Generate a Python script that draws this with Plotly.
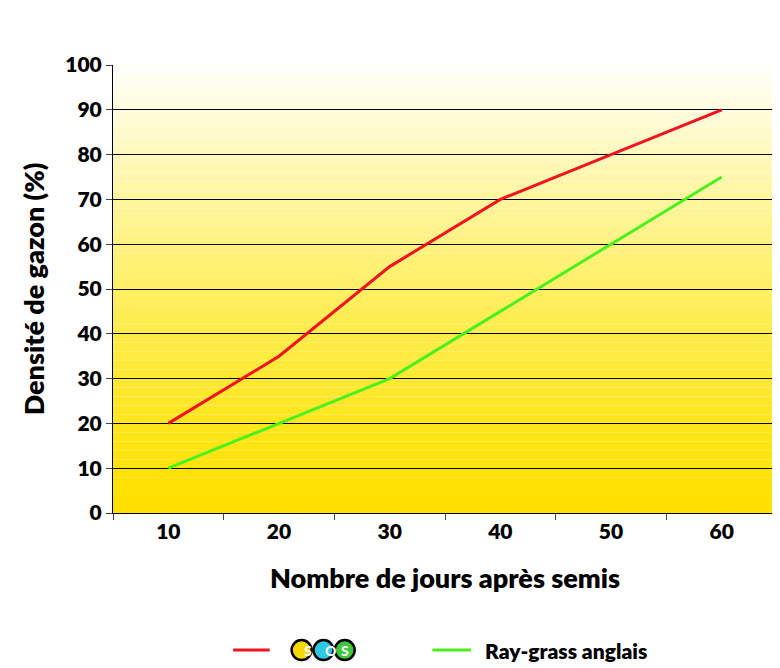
import plotly.graph_objects as go

jours = ["10", "20", "30", "40", "50", "60"]
sos = [20, 35, 55, 70, 80, 90]
ray_grass = [10, 20, 30, 45, 60, 75]

fig = go.Figure()
fig.add_trace(go.Scatter(x=jours, y=sos, mode="lines", line=dict(color="#f0141e", width=3), name="SOS"))
fig.add_trace(go.Scatter(x=jours, y=ray_grass, mode="lines", line=dict(color="#4cf01e", width=3), name="Ray-grass anglais"))

# vertical gradient background, white at top to yellow at bottom
shapes = []
n = 50
for i in range(n):
    t = i / (n - 1)
    r, g, b = 255, int(224 + (255 - 224) * t), int(0 + 250 * t ** 1.3)
    shapes.append(dict(type="rect", xref="paper", yref="y", x0=0, x1=1,
                       y0=100 * i / n, y1=100 * (i + 1) / n, layer="below",
                       line=dict(width=0), fillcolor=f"rgb({r},{g},{b})"))

ly = -0.306
# manual legend
shapes.append(dict(type="line", xref="paper", yref="paper", x0=0.181, x1=0.236, y0=ly, y1=ly,
                   line=dict(color="#f0141e", width=3)))
shapes.append(dict(type="line", xref="paper", yref="paper", x0=0.481, x1=0.539, y0=ly, y1=ly,
                   line=dict(color="#4cf01e", width=3)))
annotations = []
for cx, col, letter in [(0.284, "#f5d800", "S"), (0.317, "#2ec8e0", "O"), (0.349, "#3cc83c", "S")]:
    shapes.append(dict(type="circle", xref="paper", yref="paper", xsizemode="pixel", ysizemode="pixel",
                       xanchor=cx, yanchor=ly, x0=-10, x1=10, y0=-10, y1=10,
                       fillcolor=col, line=dict(color="black", width=2.5)))
    annotations.append(dict(x=cx, y=ly, xref="paper", yref="paper", yanchor="middle", text=letter,
                            showarrow=False,
                            font=dict(color="white", size=14, family="Lato", weight=900)))
annotations.append(dict(x=0.557, y=ly, xref="paper", yref="paper", xanchor="left", yanchor="middle",
                        text="Ray-grass anglais", showarrow=False,
                        font=dict(color="black", size=21, family="Lato", weight=800)))

fig.update_layout(
    width=772, height=660,
    margin=dict(l=105, r=3, t=57, b=155),
    paper_bgcolor="white", plot_bgcolor="white",
    showlegend=False, shapes=shapes, annotations=annotations,
    font=dict(family="Lato", color="black", size=17),
)
fig.update_xaxes(
    type="category", range=[-0.5, 5.5], tickson="boundaries", ticks="outside", ticklen=6,
    showline=True, linecolor="black", linewidth=1, showgrid=False,
    tickfont=dict(size=21, family="Lato", weight=800),
    title=dict(text="Nombre de jours après semis", font=dict(size=27, weight=800), standoff=26),
)
fig.update_yaxes(
    range=[0, 100], dtick=10, ticks="outside", ticklen=6,
    showline=True, linecolor="black", linewidth=1,
    showgrid=True, gridcolor="black", gridwidth=0.6, zeroline=False,
    tickfont=dict(size=21, family="Lato", weight=800),
    title=dict(text="Densité de gazon (%)", font=dict(size=27, weight=800), standoff=12),
)
fig.write_html("out.html")
